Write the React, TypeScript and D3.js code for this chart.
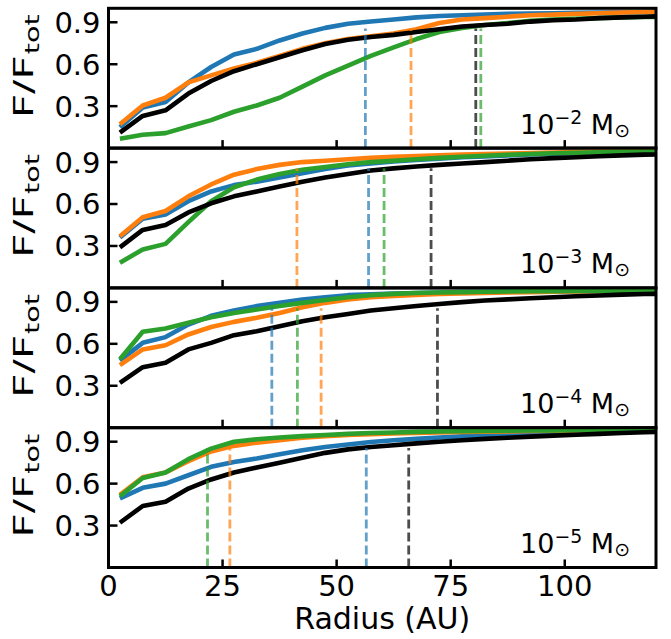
import { useEffect, useRef } from 'react'
import * as d3 from 'd3'

const radius = [2.5, 7.5, 12.5, 17.5, 22.5, 27.5, 32.5, 37.5, 42.5, 47.5, 52.5, 57.5, 62.5, 67.5, 72.5, 77.5, 82.5, 87.5, 92.5, 97.5, 102.5, 107.5, 112.5, 117.5, 122.5]

const seriesColors = ['#1f77b4', '#ff7f0e', '#2ca02c', '#000000']

// cumulative flux fraction per panel: [blue, orange, green, black]
const panel1 = [
  [0.15, 0.29, 0.33, 0.47, 0.58, 0.67, 0.71, 0.77, 0.82, 0.86, 0.89, 0.905, 0.92, 0.935, 0.945, 0.95, 0.955, 0.96, 0.962, 0.965, 0.968, 0.97, 0.972, 0.974, 0.975],
  [0.17, 0.305, 0.36, 0.47, 0.52, 0.57, 0.61, 0.66, 0.71, 0.75, 0.78, 0.80, 0.82, 0.85, 0.895, 0.92, 0.93, 0.94, 0.95, 0.955, 0.96, 0.965, 0.97, 0.974, 0.976],
  [0.067, 0.095, 0.107, 0.155, 0.20, 0.26, 0.305, 0.36, 0.44, 0.52, 0.59, 0.66, 0.72, 0.78, 0.83, 0.86, 0.88, 0.895, 0.91, 0.92, 0.925, 0.93, 0.935, 0.938, 0.94],
  [0.11, 0.23, 0.27, 0.39, 0.48, 0.55, 0.60, 0.65, 0.70, 0.745, 0.775, 0.795, 0.81, 0.83, 0.85, 0.87, 0.88, 0.89, 0.905, 0.915, 0.92, 0.93, 0.935, 0.94, 0.945],
]
const panel2 = [
  [0.36, 0.495, 0.525, 0.62, 0.69, 0.735, 0.76, 0.79, 0.82, 0.85, 0.875, 0.89, 0.905, 0.915, 0.925, 0.935, 0.94, 0.948, 0.955, 0.96, 0.964, 0.968, 0.971, 0.974, 0.976],
  [0.37, 0.505, 0.55, 0.655, 0.74, 0.81, 0.85, 0.88, 0.90, 0.91, 0.92, 0.93, 0.937, 0.943, 0.948, 0.953, 0.957, 0.961, 0.965, 0.968, 0.971, 0.973, 0.975, 0.977, 0.978],
  [0.18, 0.275, 0.315, 0.47, 0.62, 0.72, 0.775, 0.815, 0.845, 0.865, 0.885, 0.90, 0.91, 0.92, 0.93, 0.938, 0.945, 0.952, 0.958, 0.963, 0.967, 0.97, 0.973, 0.975, 0.977],
  [0.29, 0.415, 0.45, 0.54, 0.605, 0.655, 0.69, 0.725, 0.76, 0.79, 0.815, 0.84, 0.855, 0.868, 0.88, 0.89, 0.90, 0.91, 0.92, 0.928, 0.935, 0.942, 0.948, 0.953, 0.956],
]
const panel3 = [
  [0.48, 0.607, 0.648, 0.738, 0.80, 0.838, 0.87, 0.893, 0.917, 0.933, 0.948, 0.955, 0.96, 0.964, 0.967, 0.97, 0.972, 0.974, 0.976, 0.977, 0.978, 0.979, 0.98, 0.981, 0.981],
  [0.448, 0.56, 0.59, 0.667, 0.72, 0.757, 0.786, 0.82, 0.862, 0.893, 0.917, 0.933, 0.942, 0.95, 0.956, 0.96, 0.964, 0.967, 0.97, 0.972, 0.974, 0.976, 0.977, 0.978, 0.979],
  [0.49, 0.686, 0.71, 0.75, 0.79, 0.82, 0.845, 0.87, 0.893, 0.914, 0.933, 0.948, 0.957, 0.963, 0.967, 0.97, 0.972, 0.974, 0.976, 0.977, 0.978, 0.979, 0.98, 0.981, 0.981],
  [0.32, 0.433, 0.464, 0.56, 0.607, 0.662, 0.69, 0.726, 0.762, 0.79, 0.814, 0.838, 0.855, 0.87, 0.885, 0.898, 0.91, 0.918, 0.926, 0.933, 0.94, 0.946, 0.952, 0.956, 0.958],
]
const panel4 = [
  [0.495, 0.57, 0.60, 0.66, 0.72, 0.755, 0.78, 0.81, 0.838, 0.862, 0.88, 0.898, 0.91, 0.92, 0.93, 0.938, 0.945, 0.952, 0.958, 0.963, 0.968, 0.972, 0.976, 0.979, 0.981],
  [0.52, 0.645, 0.68, 0.76, 0.83, 0.87, 0.893, 0.91, 0.928, 0.94, 0.948, 0.953, 0.958, 0.962, 0.966, 0.97, 0.972, 0.974, 0.976, 0.978, 0.98, 0.981, 0.982, 0.983, 0.984],
  [0.51, 0.64, 0.68, 0.775, 0.85, 0.90, 0.917, 0.93, 0.94, 0.948, 0.956, 0.962, 0.966, 0.97, 0.973, 0.975, 0.977, 0.979, 0.98, 0.981, 0.982, 0.983, 0.984, 0.985, 0.985],
  [0.32, 0.44, 0.47, 0.565, 0.63, 0.68, 0.715, 0.75, 0.785, 0.82, 0.845, 0.862, 0.875, 0.888, 0.9, 0.91, 0.92, 0.928, 0.936, 0.943, 0.95, 0.956, 0.962, 0.968, 0.972],
]
const panels = [panel1, panel2, panel3, panel4]

// radius enclosing 85% of the flux, per panel: [blue, orange, green, black]
const r85 = [
  [56.3, 66.3, 81.6, 80.5],
  [57.0, 41.3, 60.4, 70.7],
  [35.8, 46.6, 41.4, 72.1],
  [56.5, 26.6, 21.7, 65.8],
]
const r85Level = 0.855

const massExponents = ['−2', '−3', '−4', '−5']
const xTicks = [0, 25, 50, 75, 100]
const yTicks = [0.3, 0.6, 0.9]

export default function App() {
  const ref = useRef<SVGSVGElement>(null)

  useEffect(() => {
    if (!ref.current) return
    document.body.style.margin = '0'
    const svg = d3.select(ref.current)
    svg.selectAll('*').remove()

    const left = 108.5
    const right = 656
    const top = 8.3
    const ph = 139.8
    const font = 'DejaVu Sans, sans-serif'
    const tickFs = 29
    const labelFs = 27

    const x = d3.scaleLinear().domain([0, 120]).range([left, right])

    svg.append('defs').append('clipPath').attr('id', 'plotclip')
      .append('rect').attr('x', left).attr('y', top).attr('width', right - left).attr('height', ph * 4)

    panels.forEach((series, p) => {
      const y0 = top + p * ph
      const y = d3.scaleLinear().domain([0, 1]).range([y0 + ph, y0])
      const g = svg.append('g')
      const plot = g.append('g').attr('clip-path', 'url(#plotclip)')

      const line = d3.line<number>().x((_, i) => x(radius[i])).y(d => y(d))

      series.forEach((vals, s) => {
        plot.append('path')
          .attr('d', line(vals))
          .attr('fill', 'none')
          .attr('stroke', seriesColors[s])
          .attr('stroke-width', 4.6)
          .attr('stroke-linejoin', 'round')
      })

      r85[p].forEach((rv, s) => {
        plot.append('line')
          .attr('x1', x(rv)).attr('x2', x(rv))
          .attr('y1', y(0)).attr('y2', y(r85Level))
          .attr('stroke', seriesColors[s])
          .attr('stroke-opacity', 0.7)
          .attr('stroke-width', 2.8)
          .attr('stroke-dasharray', '9,4')
      })

      // inward ticks
      yTicks.forEach(t => {
        g.append('line').attr('x1', left).attr('x2', left + 9).attr('y1', y(t)).attr('y2', y(t))
          .attr('stroke', '#000').attr('stroke-width', 2.5)
        g.append('text').attr('x', left - 8).attr('y', y(t)).attr('dy', '0.36em')
          .attr('text-anchor', 'end').style('font-family', font).style('font-size', `${tickFs}px`)
          .text(t.toFixed(1))
      })
      xTicks.forEach(t => {
        g.append('line').attr('x1', x(t)).attr('x2', x(t)).attr('y1', y0 + ph).attr('y2', y0 + ph - 8)
          .attr('stroke', '#000').attr('stroke-width', 2.5)
      })

      g.append('rect').attr('x', left).attr('y', y0).attr('width', right - left).attr('height', ph)
        .attr('fill', 'none').attr('stroke', '#000').attr('stroke-width', 3)

      // y label F/F_tot
      const lbl = g.append('text')
        .attr('transform', `translate(33,${y0 + 110}) rotate(-90)`)
        .style('font-family', font).style('font-size', `${labelFs}px`)
      lbl.append('tspan').attr('textLength', 63).attr('lengthAdjust', 'spacingAndGlyphs').text('F/F')
      lbl.append('tspan').attr('dx', 1).attr('dy', 6).attr('textLength', 40).attr('lengthAdjust', 'spacingAndGlyphs')
        .style('font-size', `${labelFs * 0.72}px`).text('tot')

      // mass label
      const m = g.append('text')
        .attr('x', 630).attr('y', y0 + ph - 14.5)
        .attr('text-anchor', 'end')
        .style('font-family', font).style('font-size', `${labelFs}px`)
      m.append('tspan').text('10')
      m.append('tspan').attr('dy', -10).style('font-size', `${labelFs * 0.7}px`).text(massExponents[p])
      m.append('tspan').attr('dy', 10).text(' M')
      m.append('tspan').attr('dy', 3).style('font-size', `${labelFs * 0.7}px`).text('⊙')
    })

    const bottom = top + 4 * ph
    xTicks.forEach(t => {
      svg.append('text').attr('x', x(t)).attr('y', bottom + 28)
        .attr('text-anchor', 'middle').style('font-family', font).style('font-size', `${tickFs}px`)
        .text(t)
    })
    svg.append('text').attr('x', (left + right) / 2).attr('y', bottom + 61)
      .attr('text-anchor', 'middle').style('font-family', font).style('font-size', '30px')
      .text('Radius (AU)')
  }, [])

  return <svg ref={ref} width={671} height={639} style={{ display: 'block', background: '#fff' }} />
}
